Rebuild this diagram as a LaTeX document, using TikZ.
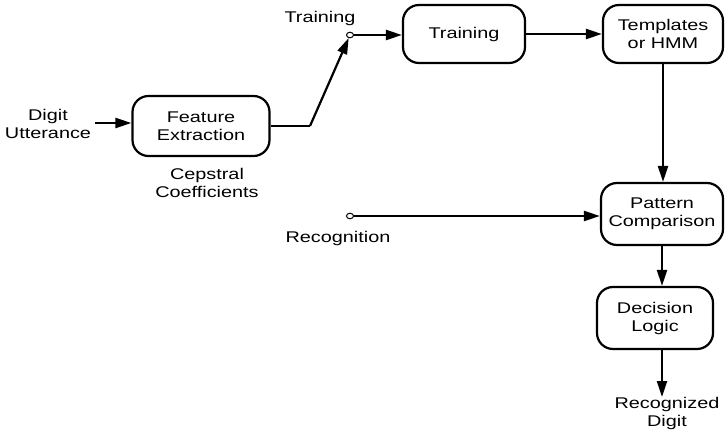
\documentclass[tikz,border=0pt]{standalone}
\usepackage{fontspec}
\setmainfont[FakeStretch=1.28]{Liberation Sans}
\usetikzlibrary{arrows.meta}
\tikzset{
  blk/.style={draw, line width=2.2pt, rounded corners=16pt, align=center, inner sep=0pt},
  lbl/.style={align=center, inner sep=0pt},
  conn/.style={line width=2.2pt, -{Triangle[length=16pt,width=10pt]}},
  plain/.style={line width=2.2pt},
  sw/.style={draw, ellipse, line width=1pt, minimum width=7pt, minimum height=5.5pt, inner sep=0pt, fill=white}
}
\usetikzlibrary{shapes.geometric}
\begin{document}
\begin{tikzpicture}[x=1pt,y=-1pt, every node/.style={font=\fontsize{15.5}{18}\selectfont}]
\useasboundingbox (0,0) rectangle (725,446);
\node[blk, minimum width=137pt, minimum height=60pt] (fe) at (201,126) {Feature\\Extraction};
\node[blk, minimum width=122pt, minimum height=58pt] (tr) at (464,34) {Training};
\node[blk, minimum width=120pt, minimum height=58pt] (tm) at (663,34) {Templates\\or HMM};
\node[blk, minimum width=122pt, minimum height=62pt] (pc) at (662,214) {Pattern\\Comparison};
\node[blk, minimum width=116pt, minimum height=62pt] (dl) at (655,318) {Decision\\Logic};
\node[lbl] (du) at (48,124) {Digit\\Utterance};
\node[lbl] (cc) at (207,183) {Cepstral\\Coefficients};
\node[lbl] (trl) at (320,18) {Training};
\node[lbl] (rec) at (338,238) {Recognition};
\node[lbl, anchor=north] (rd) at (667,397) {Recognized\\Digit};
\node[sw] (ctr) at (350,35) {};
\node[sw] (crec) at (350,216) {};
\coordinate (bend) at (310,126);
\draw[conn] (du.east |- fe.west) ++(4,-3) coordinate (duo) -- (fe.west |- duo);
\draw[plain] (fe.east) -- (bend);
\draw[conn] (bend) -- (ctr);
\draw[conn] (ctr) -- (tr.west |- ctr);
\draw[conn] (tr.east) -- (tm.west |- tr.east);
\draw[conn] (tm.south) -- (tm.south |- pc.north);
\draw[conn] (crec) -- (pc.west |- crec);
\draw[conn] (pc.south) -- (pc.south |- dl.north);
\draw[conn] (pc.south |- dl.south) -- (pc.south |- rd.north);
\end{tikzpicture}
\end{document}
